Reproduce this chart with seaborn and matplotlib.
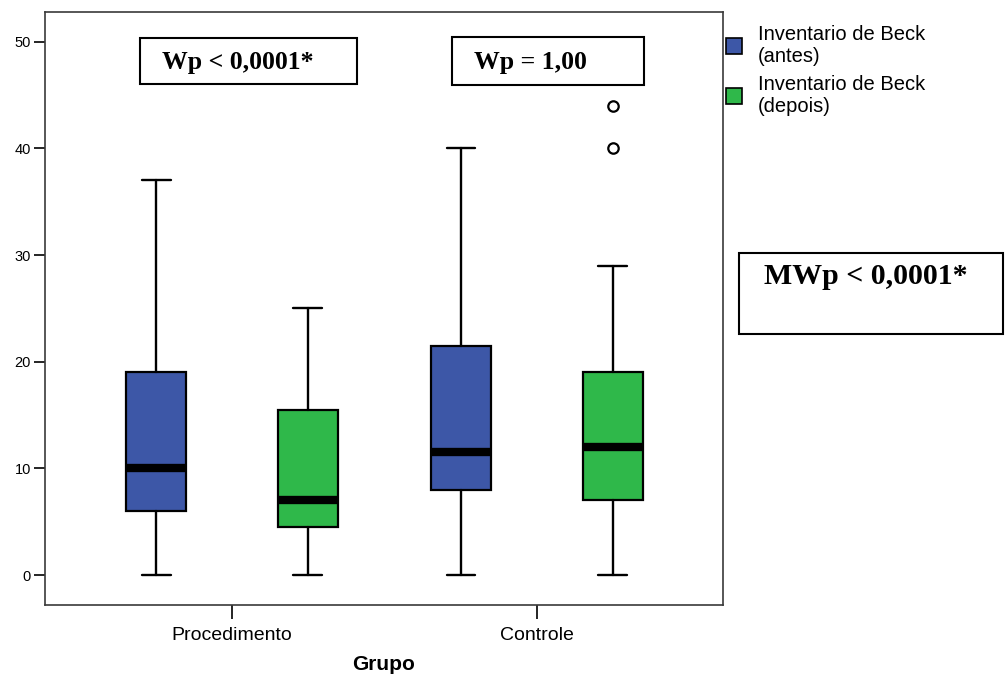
import matplotlib
matplotlib.use("Agg")
import matplotlib.pyplot as plt
import seaborn as sns
from matplotlib.patches import Patch, Rectangle

# Dados (resumo de cinco números por caixa)
grupos = ["Procedimento", "Controle"]
series = ["Inventario de Beck\n(antes)", "Inventario de Beck\n(depois)"]
cores = ["#3d57a7", "#2fb84a"]

# [grupo][série]
minimos = [[0, 0], [0, 0]]
q1 = [[6, 4.5], [8, 7]]
medianas = [[10, 7], [11.5, 12]]
q3 = [[19, 15.5], [21.5, 19]]
maximos = [[37, 25], [40, 29]]
outliers = [[[], []], [[], [40, 44]]]

textos_wp = ["Wp < 0,0001*", "Wp = 1,00"]
texto_mwp = "MWp < 0,0001*"

sns.set_theme(style="white")
plt.rcParams["font.family"] = ["Liberation Sans", "DejaVu Sans"]
plt.rcParams.update({"text.color": "black", "axes.labelcolor": "black",
                     "xtick.color": "black", "ytick.color": "black"})

W, H = 1005, 678
fig = plt.figure(figsize=(W / 100, H / 100), dpi=100)


def fx(px):
    return px / W


def fy(py):
    return 1 - py / H


ax = fig.add_axes([fx(45), fy(605), fx(723) - fx(45), fy(11.5) - fy(605)])

offset = 0.249
largura = 0.197
for gi in range(len(grupos)):
    for si in range(len(series)):
        st = [{
            "whislo": minimos[gi][si],
            "q1": q1[gi][si],
            "med": medianas[gi][si],
            "q3": q3[gi][si],
            "whishi": maximos[gi][si],
            "fliers": outliers[gi][si],
        }]
        pos = gi + (si - 0.5) * 2 * offset
        ax.bxp(
            st, positions=[pos], widths=largura, patch_artist=True,
            manage_ticks=False,
            boxprops=dict(facecolor=cores[si], edgecolor="black", linewidth=1.6),
            medianprops=dict(color="black", linewidth=6, solid_capstyle="butt"),
            whiskerprops=dict(color="black", linewidth=1.7),
            capprops=dict(color="black", linewidth=1.7),
            capwidths=0.095,
            flierprops=dict(marker="o", markerfacecolor="white",
                            markeredgecolor="black", markersize=7.5,
                            markeredgewidth=1.6),
        )

ax.set_xlim(-0.613, 1.61)
ax.set_ylim(-2.81, 52.83)
ax.set_xticks(range(len(grupos)))
ax.set_xticklabels(grupos, fontsize=14)
ax.set_yticks([0, 10, 20, 30, 40, 50])
ax.tick_params(axis="y", direction="out", length=8, width=1.2, labelsize=10.5,
               left=True, pad=2)
ax.tick_params(axis="x", direction="out", length=10, width=1.2, bottom=True,
               pad=6)
for s in ax.spines.values():
    s.set_color("#3a3a3a")
    s.set_linewidth(1.2)
    s.set_visible(True)
ax.set_xlabel("Grupo", fontsize=15, fontweight="bold", labelpad=8)
ax.set_ylabel("")
ax.grid(False)

# caixas de texto com os p-valores
caixas = [(140, 38, 357, 84), (452, 37, 644, 85)]
for (x0, y0, x1, y1), txt in zip(caixas, textos_wp):
    fig.patches.append(Rectangle((fx(x0), fy(y1)), fx(x1) - fx(x0), fy(y0) - fy(y1),
                                 transform=fig.transFigure, fill=False,
                                 edgecolor="black", linewidth=1.5))
    fig.text(fx(x0 + 22), fy(63), txt, ha="left", va="center",
             fontsize=18.5, fontweight="bold", family="Liberation Serif")

fig.patches.append(Rectangle((fx(739), fy(334)), fx(1003) - fx(739), fy(253) - fy(334),
                             transform=fig.transFigure, fill=False,
                             edgecolor="black", linewidth=1.5))
fig.text(fx(866), fy(277), texto_mwp, ha="center", va="center",
         fontsize=21.5, fontweight="bold", family="Liberation Serif")

handles = [Patch(facecolor=c, edgecolor="black", linewidth=1.2) for c in cores]
leg = fig.legend(handles, series, loc="upper left",
                 bbox_to_anchor=(fx(726), fy(25)), frameon=False,
                 fontsize=14.5, handlelength=0.8, handleheight=0.8,
                 handletextpad=0.8, labelspacing=0.45, borderpad=0,
                 borderaxespad=0)
for t in leg.get_texts():
    t.set_linespacing(1.2)

fig.savefig("out.png", dpi=100)
